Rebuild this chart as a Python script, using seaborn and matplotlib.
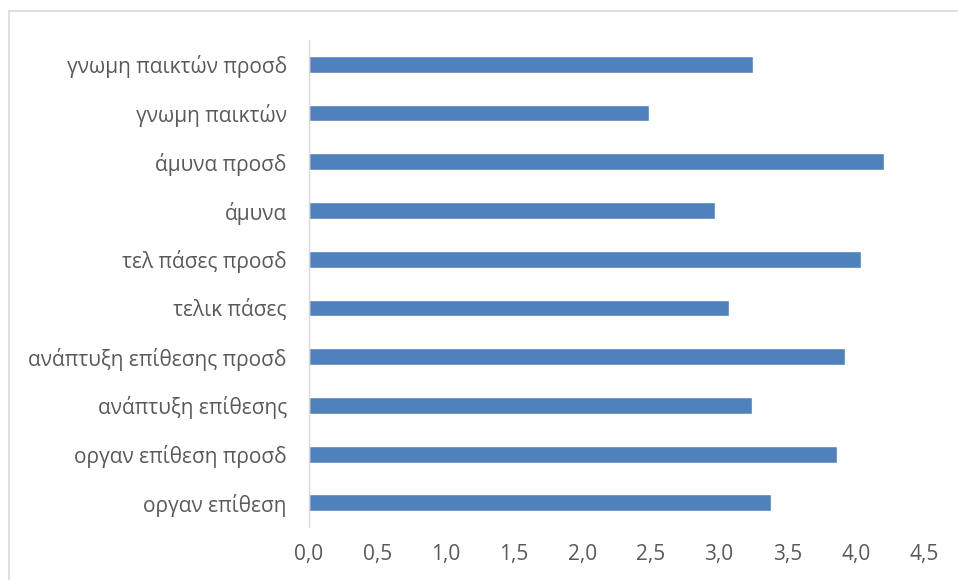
import matplotlib
matplotlib.use("Agg")
import matplotlib.pyplot as plt
import seaborn as sns
import pandas as pd
from matplotlib.lines import Line2D
from matplotlib.ticker import FuncFormatter

categories = [
    "γνωμη παικτών προσδ",
    "γνωμη παικτών",
    "άμυνα προσδ",
    "άμυνα",
    "τελ πάσες προσδ",
    "τελικ πάσες",
    "ανάπτυξη επίθεσης προσδ",
    "ανάπτυξη επίθεσης",
    "οργαν επίθεση προσδ",
    "οργαν επίθεση",
]
values = [3.25, 2.49, 4.21, 2.97, 4.04, 3.07, 3.92, 3.24, 3.86, 3.38]
x_ticks = [0.0, 0.5, 1.0, 1.5, 2.0, 2.5, 3.0, 3.5, 4.0, 4.5]

df = pd.DataFrame({"category": categories, "value": values})

sns.set_theme(style="white")
plt.rcParams["font.family"] = ["Open Sans", "DejaVu Sans"]

fig = plt.figure(figsize=(9.58, 5.8), dpi=100)
ax = fig.add_axes([309 / 958, 1 - 527.2 / 580, (924 - 309) / 958, (527.2 - 40) / 580])

sns.barplot(data=df, x="value", y="category", order=categories, color="#4f81bd",
            width=0.345, ax=ax, saturation=1)

ax.set_xlim(0, 4.5)
ax.set_xticks(x_ticks)
ax.xaxis.set_major_formatter(FuncFormatter(lambda v, p: f"{v:.1f}".replace(".", ",")))
ax.set_xlabel("")
ax.set_ylabel("")
for s in ["top", "right", "bottom"]:
    ax.spines[s].set_visible(False)
ax.spines["left"].set_color("#d9d9d9")
ax.spines["left"].set_linewidth(1.0)
ax.tick_params(axis="both", length=0, colors="#595959", labelsize=15)
ax.tick_params(axis="y", pad=16)
ax.tick_params(axis="x", pad=12)
ax.grid(False)

# outer chart border
fig.add_artist(Line2D([9 / 958, 1], [1 - 11 / 580, 1 - 11 / 580], color="#d9d9d9", lw=1.2,
                      transform=fig.transFigure))
fig.add_artist(Line2D([9 / 958, 9 / 958], [0, 1 - 11 / 580], color="#d9d9d9", lw=1.2,
                      transform=fig.transFigure))

fig.savefig("out.png", dpi=100)
